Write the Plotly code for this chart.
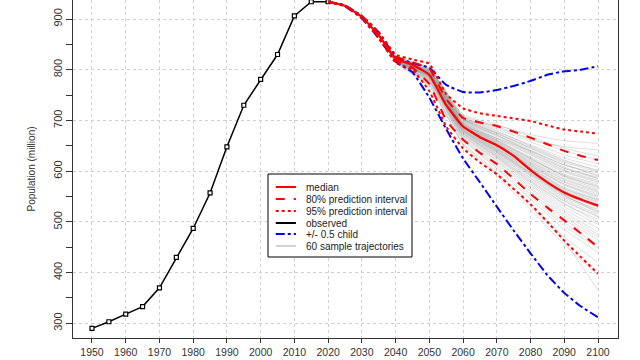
import plotly.graph_objects as go

# ---------------- data ----------------
obs_years = [1950, 1955, 1960, 1965, 1970, 1975, 1980, 1985, 1990, 1995, 2000, 2005, 2010, 2015, 2020]
observed = [290, 303, 318, 333, 370, 430, 487, 557, 648, 730, 781, 830, 906, 934, 934]

proj_years = [2020, 2025, 2030, 2035, 2040, 2045, 2050, 2055, 2060, 2065, 2070, 2075, 2080, 2085, 2090, 2095, 2100]
median = [934, 926, 904, 868, 822, 810, 790, 730, 688, 667, 651, 630, 602, 578, 558, 544, 532]
pi80_upper = [934, 926, 905, 871, 826, 815, 802, 742, 705, 696, 689, 678, 666, 653, 640, 630, 622]
pi80_lower = [934, 926, 903, 865, 818, 804, 772, 700, 662, 636, 614, 585, 555, 528, 503, 477, 450]
pi95_upper = [934, 926, 906, 874, 830, 820, 812, 752, 724, 714, 709, 704, 699, 690, 682, 678, 674]
pi95_lower = [934, 926, 902, 862, 814, 800, 758, 688, 645, 617, 594, 565, 535, 500, 463, 430, 398]
child_upper = [934, 927, 906, 874, 826, 813, 804, 770, 756, 755, 760, 768, 778, 790, 797, 800, 807]
child_lower = [934, 925, 901, 862, 816, 795, 745, 683, 625, 578, 530, 483, 438, 395, 360, 333, 312]

traj_years = [2020, 2025, 2030, 2035, 2040, 2050, 2060, 2070, 2080, 2090, 2100]
traj_start = [934, 926, 904, 868]
trajectories = [
    [824, 797, 702, 690, 672, 660, 655], [821, 790, 692, 665, 640, 612, 596],
    [822, 792, 690, 652, 610, 572, 548], [819, 785, 677, 630, 580, 535, 505],
    [826, 801, 707, 680, 650, 622, 600], [818, 778, 670, 620, 565, 510, 470],
    [823, 793, 694, 660, 625, 590, 570], [822, 789, 686, 645, 602, 560, 535],
    [825, 798, 704, 675, 645, 615, 590], [820, 784, 680, 636, 590, 545, 515],
    [822, 791, 691, 655, 618, 585, 562], [819, 780, 672, 625, 572, 520, 480],
    [827, 803, 712, 692, 668, 645, 630], [821, 788, 685, 642, 598, 555, 528],
    [823, 794, 696, 662, 628, 598, 578], [817, 774, 662, 605, 545, 485, 440],
    [822, 790, 688, 650, 612, 575, 552], [824, 795, 699, 668, 636, 605, 585],
    [820, 785, 678, 633, 585, 540, 510], [822, 792, 692, 657, 620, 588, 565],
    [826, 800, 706, 683, 658, 632, 615], [820, 787, 682, 640, 595, 552, 522],
    [822, 790, 689, 652, 608, 568, 545], [818, 776, 666, 612, 555, 498, 455],
    [823, 794, 697, 664, 632, 600, 580], [821, 789, 687, 646, 604, 563, 540],
    [825, 797, 702, 672, 642, 612, 592], [819, 783, 676, 628, 578, 530, 495],
    [822, 791, 690, 654, 615, 580, 558], [816, 771, 657, 598, 535, 470, 420],
    [824, 795, 700, 670, 640, 608, 586], [822, 790, 688, 648, 607, 566, 542],
    [820, 786, 681, 638, 592, 548, 520], [827, 802, 710, 688, 664, 640, 622],
    [823, 793, 693, 658, 622, 592, 572], [819, 781, 674, 627, 575, 525, 488],
    [823, 794, 695, 661, 626, 594, 575], [821, 788, 684, 643, 600, 558, 532],
    [818, 777, 668, 616, 560, 505, 465], [825, 799, 705, 678, 652, 626, 608],
    [822, 790, 689, 651, 611, 574, 550], [819, 784, 679, 634, 587, 542, 512],
    [824, 796, 701, 671, 638, 606, 588], [822, 792, 691, 656, 617, 583, 560],
    [815, 769, 652, 590, 525, 455, 395], [821, 789, 686, 644, 603, 561, 538],
    [826, 802, 708, 686, 662, 648, 642], [820, 785, 680, 637, 594, 550, 525],
    [823, 795, 698, 665, 634, 602, 582], [819, 779, 671, 622, 568, 515, 475],
    [822, 791, 690, 653, 614, 578, 555], [822, 790, 687, 647, 606, 565, 544],
    [824, 797, 703, 674, 646, 618, 598], [818, 775, 664, 608, 550, 492, 448],
    [821, 787, 683, 641, 597, 554, 530], [823, 793, 694, 659, 624, 591, 568],
    [815, 767, 654, 595, 530, 462, 365], [819, 782, 675, 631, 582, 536, 500],
    [825, 798, 703, 676, 648, 620, 602], [820, 786, 682, 639, 596, 553, 518],
]

legend_labels = ["median", "80% prediction interval", "95% prediction interval",
                 "observed", "+/- 0.5 child", "60 sample trajectories"]

# ---------------- styles ----------------
RED = "#ff0000"
BLUE = "#0000ee"
GRAY_TRAJ = "rgba(150,150,150,0.40)"
legend_styles = [
    dict(color=RED, width=2, dash="solid"),
    dict(color=RED, width=2, dash="dash"),
    dict(color=RED, width=2, dash="dot"),
    dict(color="black", width=2, dash="solid"),
    dict(color=BLUE, width=2, dash="dashdot"),
    dict(color="#c4c4c4", width=1.5, dash="solid"),
]
SMOOTH = 0.35

fig = go.Figure()

for tr in trajectories:
    fig.add_trace(go.Scatter(x=traj_years, y=traj_start + tr, mode="lines",
                             line=dict(color=GRAY_TRAJ, width=0.8, shape="spline", smoothing=0.5),
                             showlegend=False, hoverinfo="skip"))

fig.add_trace(go.Scatter(x=obs_years, y=observed, mode="lines+markers",
                         line=dict(color="black", width=1.5),
                         marker=dict(symbol="square", size=4, color="white",
                                     line=dict(color="black", width=1.2)),
                         showlegend=False))

for ys in (child_upper, child_lower):
    fig.add_trace(go.Scatter(x=proj_years, y=ys, mode="lines",
                             line=dict(color=BLUE, width=2, dash="dashdot", shape="spline", smoothing=SMOOTH),
                             showlegend=False))
for ys in (pi95_upper, pi95_lower):
    fig.add_trace(go.Scatter(x=proj_years, y=ys, mode="lines",
                             line=dict(color=RED, width=2, dash="dot", shape="spline", smoothing=SMOOTH),
                             showlegend=False))
for ys in (pi80_upper, pi80_lower):
    fig.add_trace(go.Scatter(x=proj_years, y=ys, mode="lines",
                             line=dict(color=RED, width=2, dash="dash", shape="spline", smoothing=SMOOTH),
                             showlegend=False))
fig.add_trace(go.Scatter(x=proj_years, y=median, mode="lines",
                         line=dict(color=RED, width=2.2, shape="spline", smoothing=SMOOTH),
                         showlegend=False))

# ---------------- manual legend (layout only) ----------------
# paper coords for a plot area spanning y = 0..338 px
def py(px):
    return 1 - px / 338.0

box = dict(x0=0.3578, x1=0.622, y0=py(257), y1=py(174))
shapes = [dict(type="rect", xref="paper", yref="paper", **box,
               line=dict(color="black", width=1), fillcolor="white", layer="above")]
annotations = []
row_px = [187, 199, 211, 223, 234, 246]
for lab, sty, rp in zip(legend_labels, legend_styles, row_px):
    yy = py(rp)
    shapes.append(dict(type="line", xref="paper", yref="paper", x0=0.372, x1=0.409,
                       y0=yy, y1=yy, line=sty, layer="above"))
    annotations.append(dict(xref="paper", yref="paper", x=0.4233, y=yy, text=lab,
                            showarrow=False, xanchor="left", yanchor="middle",
                            font=dict(size=10, color="#222222", family="Liberation Sans, Arial")))

fig.update_layout(
    width=640, height=360, autosize=False,
    margin=dict(l=73, r=22, t=0, b=22),
    paper_bgcolor="white", plot_bgcolor="white",
    font=dict(family="Liberation Sans, Arial", size=11, color="#333333"),
    showlegend=False,
    shapes=shapes, annotations=annotations,
    xaxis=dict(range=[1944.37, 2105.93], tickmode="linear", tick0=1950, dtick=10,
               showgrid=True, gridcolor="#cfcfcf", griddash="dot", gridwidth=1,
               showline=True, linecolor="#333333", linewidth=1, mirror=False,
               ticks="outside", ticklen=4, tickcolor="#333333", zeroline=False,
               ticklabelstandoff=0, tickfont=dict(size=10.5), automargin=False),
    yaxis=dict(range=[271.0, 937.5], tickmode="linear", tick0=300, dtick=100,
               showgrid=True, gridcolor="#cfcfcf", griddash="dot", gridwidth=1,
               showline=True, linecolor="#333333", linewidth=1, mirror=True,
               ticks="outside", ticklen=6, tickcolor="#333333", zeroline=False,
               tickangle=-90, tickfont=dict(size=11), automargin=False,
               minor=dict(dtick=50, ticks="outside", ticklen=6, tickcolor="#333333", showgrid=False),
               title=dict(text="Population (million)", font=dict(size=10), standoff=14)),
)

fig.write_html("out.html", config={"displayModeBar": False},
               post_script="document.body.style.margin='0';document.body.style.overflow='hidden';")
